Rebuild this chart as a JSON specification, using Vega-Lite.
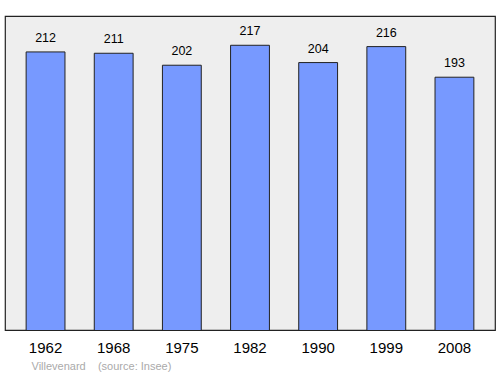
{
  "$schema": "https://vega.github.io/schema/vega-lite/v6.json",
  "width": 490,
  "height": 314,
  "autosize": "none",
  "padding": {"left": 5, "top": 16, "right": 5, "bottom": 44},
  "background": "white",
  "config": {
    "font": "Liberation Sans",
    "view": {"fill": "#eeeeee", "stroke": "#222222", "strokeWidth": 1.2}
  },
  "data": {
    "values": [
      {"year": "1962", "pop": 212},
      {"year": "1968", "pop": 211},
      {"year": "1975", "pop": 202},
      {"year": "1982", "pop": 217},
      {"year": "1990", "pop": 204},
      {"year": "1999", "pop": 216},
      {"year": "2008", "pop": 193}
    ]
  },
  "encoding": {
    "x": {
      "field": "year",
      "type": "ordinal",
      "scale": {"paddingInner": 0.43, "paddingOuter": 0.31},
      "axis": {
        "title": "Villevenard\u00a0\u00a0\u00a0\u00a0(source: Insee)",
        "titleFontSize": 11,
        "titleFontWeight": "normal",
        "titleColor": "#aaaaaa",
        "titleAnchor": "start",
        "titleAlign": "left",
        "titleBaseline": "alphabetic",
        "titleX": 26,
        "titleY": 39,
        "labelAngle": 0,
        "labelFontSize": 15,
        "labelColor": "#000000",
        "labelPadding": 10,
        "ticks": false,
        "domain": false
      }
    },
    "y": {
      "field": "pop",
      "type": "quantitative",
      "scale": {"domain": [3, 239], "zero": false, "nice": false},
      "axis": null
    }
  },
  "layer": [
    {
      "mark": {"type": "bar", "color": "#7799ff", "stroke": "#222222", "strokeWidth": 1, "clip": true}
    },
    {
      "mark": {"type": "text", "dy": -10, "baseline": "alphabetic", "fontSize": 12.5, "color": "#000000"},
      "encoding": {"text": {"field": "pop", "type": "quantitative"}}
    }
  ]
}
